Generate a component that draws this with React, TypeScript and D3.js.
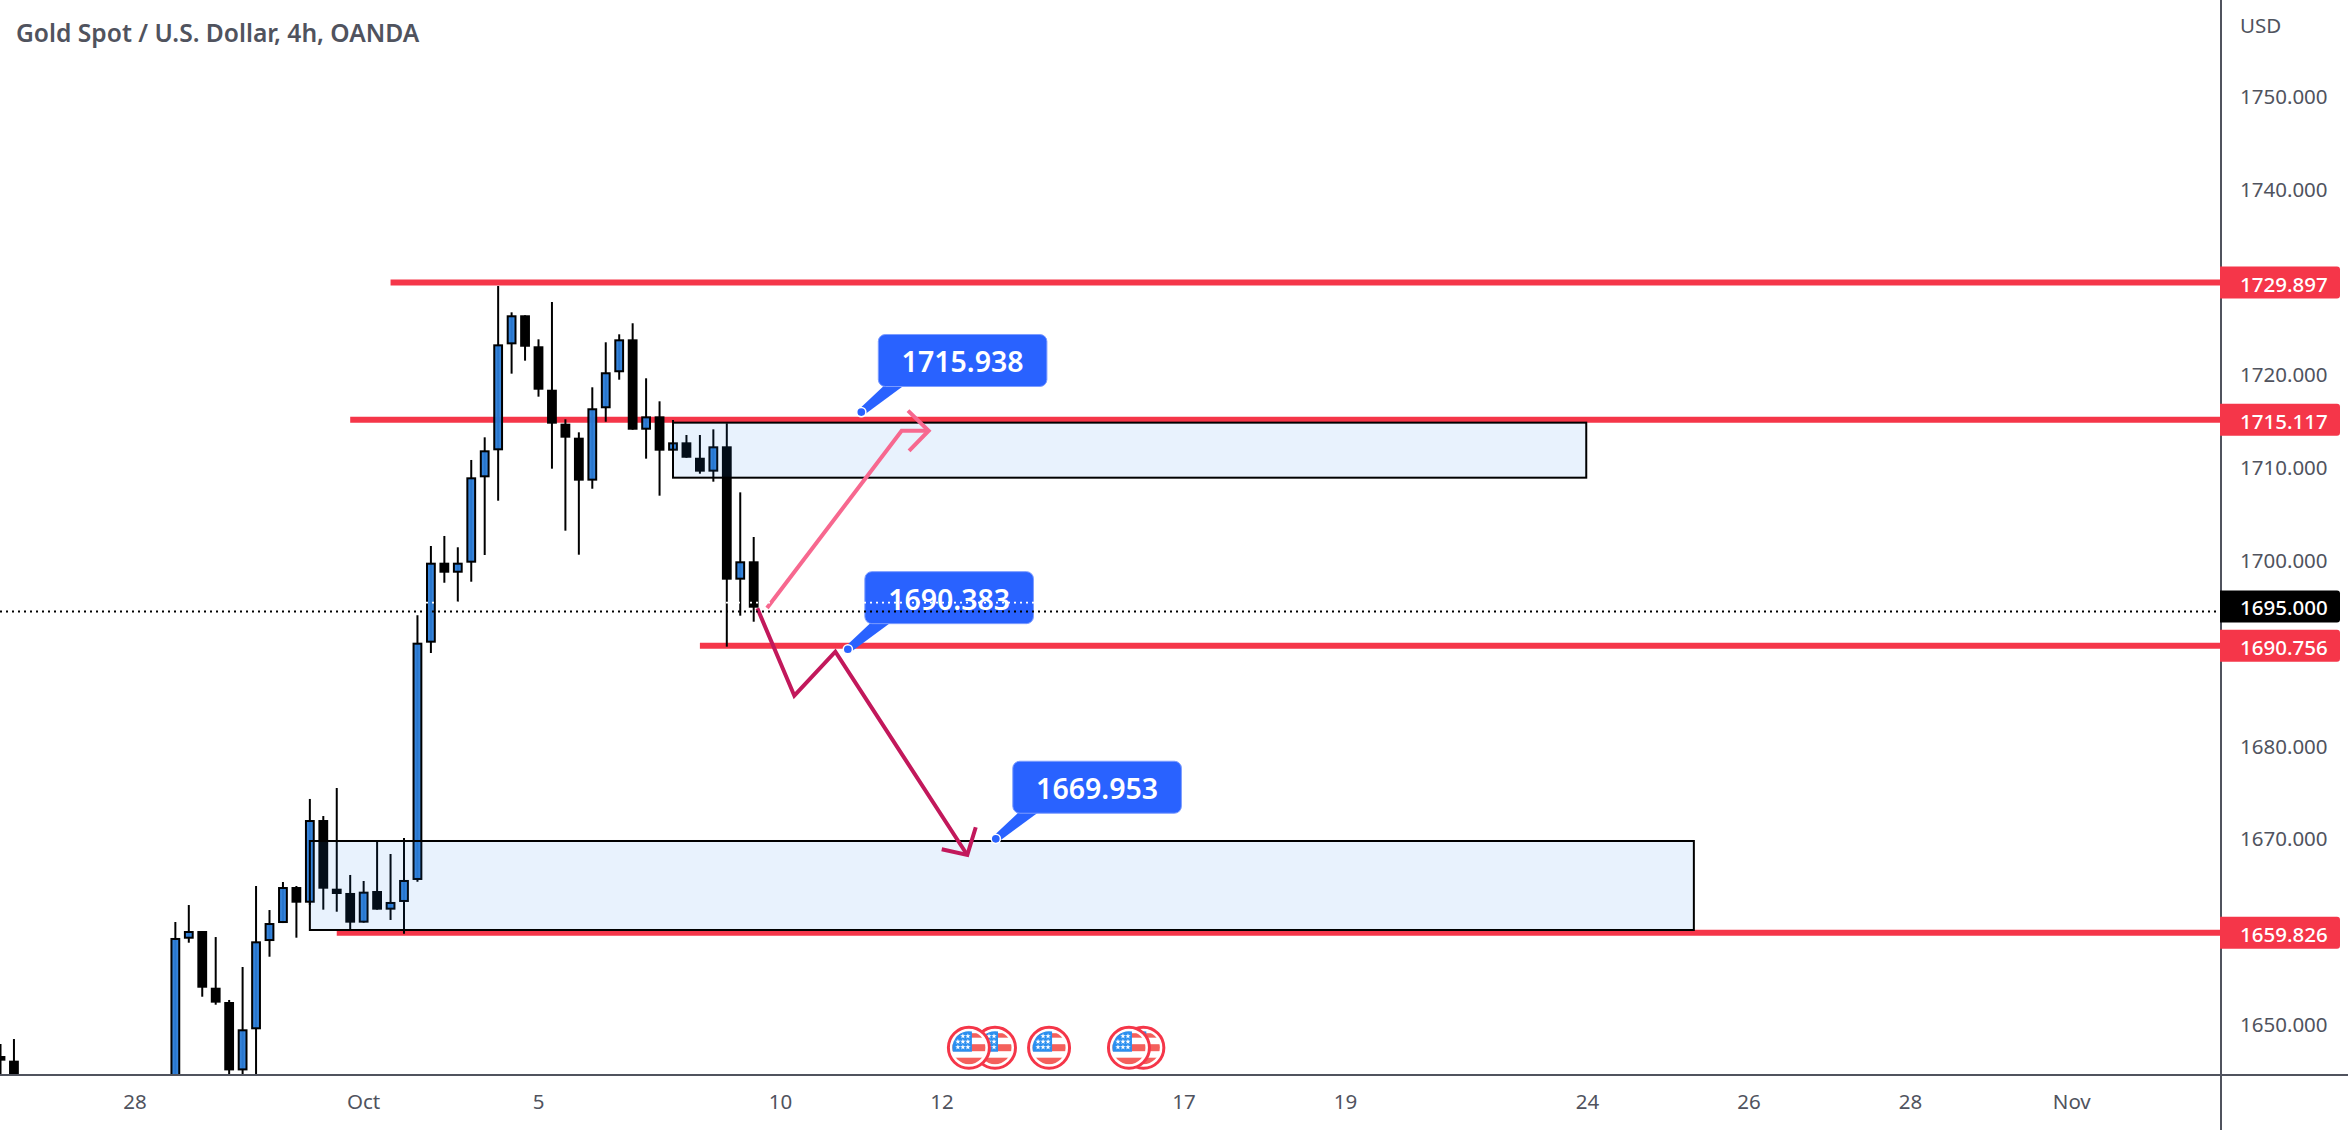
import React from "react";
import * as d3 from "d3";

const W = 2348, H = 1130, AXIS_X = 2221, AXIS_Y = 1075;
const FONT = "'Noto Sans', sans-serif";

// candles: bar index, open, high, low, close
const barIndex = [0,1,13,14,15,16,17,18,19,20,21,22,23,24,25,26,27,28,29,30,31,32,33,34,35,36,37,38,39,40,41,42,43,44,45,46,47,48,49,50,51,52,53,54,55,56];
const opens = [1646.55,1646.05,1640,1659.19,1660.02,1653.91,1652.37,1645,1649.43,1658.94,1660.88,1664.76,1663.07,1671.98,1664.58,1664.12,1660.92,1664.33,1662.32,1663.15,1665.52,1691.09,1699.71,1698.63,1699.71,1708.91,1711.82,1723.24,1726.37,1723.03,1718.35,1714.69,1713.18,1708.55,1716.35,1720.23,1723.78,1714.04,1715.48,1711.78,1712.68,1711.02,1709.52,1712.25,1697.88,1699.86];
const highs = [1647.84,1648.38,1660.99,1662.82,1660.02,1659.37,1652.59,1656.14,1664.87,1662.28,1665.3,1664.87,1674.25,1672.41,1675.43,1666.06,1665.41,1669.72,1668.32,1670.04,1694.04,1701.51,1702.59,1701.37,1710.78,1713.22,1729.53,1726.69,1726.37,1723.78,1727.8,1715.16,1713.76,1718.61,1723.46,1724.32,1725.51,1719.58,1717.1,1715.09,1713.47,1713.47,1714.08,1714.73,1707.29,1702.48];
const lows = [1641,1640,1638,1658.76,1652.94,1652.08,1642,1640,1642,1657.25,1660.88,1659.3,1662.82,1662.32,1662.1,1660.13,1660.92,1662.32,1661.21,1659.73,1665.33,1689.98,1697.55,1695.51,1697.66,1700.54,1706.39,1720.08,1721.48,1717.6,1709.84,1703.16,1700.57,1707.68,1714.9,1719.43,1714.04,1710.92,1706.93,1711.78,1711.02,1709.3,1708.44,1690.66,1694,1693.35];
const closes = [1646.05,1642,1659.27,1660.02,1653.91,1652.3,1645,1649.43,1658.91,1660.88,1664.76,1663.07,1671.98,1664.58,1664.01,1660.92,1664.26,1662.32,1663.15,1665.52,1691.09,1699.71,1698.63,1699.71,1708.91,1711.82,1723.24,1726.37,1722.98,1718.35,1714.69,1713.18,1708.55,1716.35,1720.23,1723.78,1714.04,1715.48,1711.78,1712.68,1711.02,1709.52,1712.25,1697.88,1699.86,1694.86];

// axes
const priceTicks = [1750,1740,1720,1710,1700,1680,1670,1650];
const timeTickIndex = [10,27,40,58,70,88,100,118,130,142,154];
const timeTickLabels = ["28","Oct","5","10","12","17","19","24","26","28","Nov"];

// drawings: [start bar, price]
const levelPrices = [1729.897,1715.117,1690.756,1659.826];
const levelStarts = [29,26,52,25];
const zoneLeft = [23,50];
const zoneRight = [125.9,117.9];
const zoneTop = [1669.72,1714.8];
const zoneBottom = [1660.13,1708.87];
const pinkPath: [number,number][] = [[56.99,1694.83],[67,1713.93],[69.01,1713.93]];
const pinkHead: [number,number][] = [[67.47,1716.09],[69.01,1713.93],[67.55,1711.75]];
const crimsonPath: [number,number][] = [[56.27,1694.8],[59.02,1685.38],[62.07,1690.12],[71.88,1668.21]];
const crimsonHead: [number,number][] = [[72.51,1671.2],[71.88,1668.21],[69.98,1668.83]];
const calloutBars = [64,63,74];
const calloutPrices = [1715.938,1690.383,1669.953];
const lastPriceLabel = 1695;
const lastLine = 1694.45;
const ghostLine = 1695.4;
const flagBars = [73.94,72,77.96,84.97,83.9];

const x = d3.scaleLinear().domain([0, 100]).range([0.5, 1345.5]);
const y = d3.scaleLinear().domain([1750, 1650]).range([96, 1024]);
const line = d3.line<[number,number]>().x(d => x(d[0])).y(d => y(d[1]));

const RED = "#f53649", INK = "#50535e", BLUE = "#2962ff";

const starPath = d3.symbol().type(d3.symbolStar).size(9)() as string;

function Flag({ cx }: { cx: number }) {
  const id = "fc" + Math.round(cx);
  const stars: [number,number][] = [[-6,-11.5],[-1,-11.5],[-11,-6],[-6,-6],[-1,-6],[-11,-0.5],[-6,-0.5],[-1,-0.5]];
  return (
    <g transform={`translate(${cx},1047.7)`}>
      <circle r={20.5} fill="#fff" stroke={RED} strokeWidth={3} />
      <clipPath id={id}><circle r={16.5} /></clipPath>
      <g clipPath={`url(#${id})`}>
        <rect x={-17} y={-17} width={34} height={34} fill="#fff" />
        <rect x={-17} y={-14.5} width={34} height={4.5} fill="#f4605c" />
        <rect x={-17} y={-3.5} width={34} height={7} fill="#f4605c" />
        <rect x={-17} y={10} width={34} height={7} fill="#f4605c" />
        <rect x={-17} y={-17} width={20} height={21} fill="#2b8fef" />
        {stars.map((s, i) => <path key={i} d={starPath} fill="#fff" transform={`translate(${s[0]},${s[1]})`} />)}
      </g>
    </g>
  );
}

function Callout({ bar, price }: { bar: number; price: number }) {
  const ax = x(bar), ay = y(price);
  const bx = ax + 17, by = ay - 77.6, bw = 168.6, bh = 52;
  return (
    <g>
      <path d={`M${bx + 7},${by + bh - 2}L${bx + 27},${by + bh - 2}L${ax + 4},${ay + 2}L${ax - 1},${ay - 4}Z`} fill={BLUE} />
      <rect x={bx} y={by} width={bw} height={bh} rx={7} fill={BLUE} stroke="#7d9dff" strokeWidth={1} />
      <circle cx={ax} cy={ay} r={4.6} fill={BLUE} stroke="#fff" strokeWidth={1.5} />
      <text x={bx + bw / 2} y={by + bh / 2 + 1} textAnchor="middle" dominantBaseline="central" fill="#fff" fontSize={28.5} fontWeight={600} fontFamily={FONT}>{price.toFixed(3)}</text>
    </g>
  );
}

function Tag({ price, fill }: { price: number; fill: string }) {
  const c = y(price), t = c - 16, b = c + 16, l = 2220, r = 2340;
  return (
    <g>
      <path d={`M${l},${t}H${r - 3}Q${r},${t} ${r},${t + 3}V${b - 3}Q${r},${b} ${r - 3},${b}H${l}Z`} fill={fill} />
      <text x={2240} y={c + 1} dominantBaseline="central" fill="#fff" fontSize={20.5} fontWeight={500} fontFamily={FONT}>{price.toFixed(3)}</text>
    </g>
  );
}

export default function App() {
  return (
    <svg width={W} height={H} viewBox={`0 0 ${W} ${H}`} style={{ position: "absolute", left: 0, top: 0, display: "block", background: "#fff" }}>
      <defs>
        <clipPath id="plot"><rect x={0} y={0} width={AXIS_X - 1} height={AXIS_Y} /></clipPath>
      </defs>
      <g clipPath="url(#plot)">
        {levelPrices.map((p, i) => (
          <line key={i} x1={x(levelStarts[i])} x2={2220} y1={y(p)} y2={y(p)} stroke={RED} strokeWidth={6} />
        ))}
        {barIndex.map((t, i) => {
          const up = closes[i] >= opens[i];
          const top = y(Math.max(opens[i], closes[i]));
          const bot = y(Math.min(opens[i], closes[i]));
          return (
            <g key={t}>
              <line x1={x(t)} x2={x(t)} y1={y(highs[i])} y2={y(lows[i])} stroke="#000" strokeWidth={2} />
              <rect x={x(t) - 3.9} y={top + 1} width={7.8} height={Math.max(bot - top - 2, 0.5)} fill={up ? "#2a7cd8" : "#000"} fillOpacity={up ? 0.95 : 1} stroke="#000" strokeWidth={2} />
            </g>
          );
        })}
        {zoneLeft.map((l, i) => (
          <rect key={i} x={x(l)} y={y(zoneTop[i])} width={x(zoneRight[i]) - x(l)} height={y(zoneBottom[i]) - y(zoneTop[i])} fill="rgba(33,125,240,0.1)" stroke="#000" strokeWidth={2} />
        ))}
        <g fill="none" stroke="#f7688f" strokeWidth={4}>
          <path d={line(pinkPath) as string} />
          <path d={line(pinkHead) as string} />
        </g>
        <g fill="none" stroke="#c2185b" strokeWidth={4}>
          <path d={line(crimsonPath) as string} />
          <path d={line(crimsonHead) as string} />
        </g>
        {calloutBars.map((b, i) => <Callout key={i} bar={b} price={calloutPrices[i]} />)}
        {flagBars.map((b, i) => <Flag key={i} cx={x(b)} />)}
        <line x1={0} x2={2217} y1={y(ghostLine)} y2={y(ghostLine)} stroke="#fff" strokeWidth={1.8} strokeDasharray="2 4" />
        <line x1={0} x2={2217} y1={y(lastLine)} y2={y(lastLine)} stroke="#000" strokeWidth={1.8} strokeDasharray="2 4" />
      </g>

      <line x1={0} x2={W} y1={AXIS_Y} y2={AXIS_Y} stroke={INK} strokeWidth={2} />
      <line x1={AXIS_X} x2={AXIS_X} y1={0} y2={H} stroke={INK} strokeWidth={2} />

      {priceTicks.map(p => (
        <text key={p} x={2240} y={y(p)} dominantBaseline="central" fill={INK} fontSize={20.5} fontFamily={FONT}>{p.toFixed(3)}</text>
      ))}
      <text x={2240} y={25} dominantBaseline="central" fill={INK} fontSize={20.5} fontFamily={FONT}>USD</text>

      {levelPrices.map(p => <Tag key={p} price={p} fill={RED} />)}
      <Tag price={lastPriceLabel} fill="#000" />

      {timeTickIndex.map((t, i) => (
        <text key={t} x={x(t)} y={1101} textAnchor="middle" dominantBaseline="central" fill={INK} fontSize={20.5} fontFamily={FONT}>{timeTickLabels[i]}</text>
      ))}

      <text x={16} y={32} dominantBaseline="central" fill={INK} fontSize={24.6} fontWeight={600} fontFamily={FONT}>Gold Spot / U.S. Dollar, 4h, OANDA</text>
    </svg>
  );
}
